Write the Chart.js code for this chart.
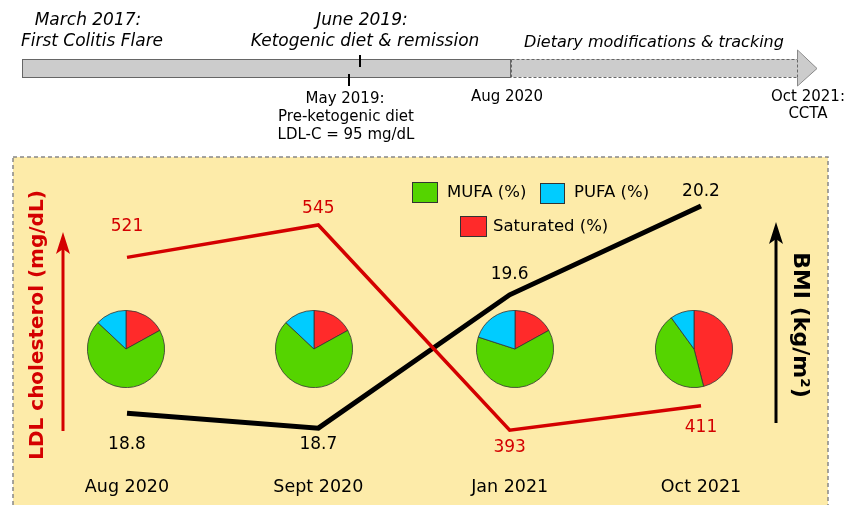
<!DOCTYPE html>
<html>
<head>
<meta charset="utf-8">
<script src="https://cdn.jsdelivr.net/npm/chart.js@4"></script>
<style>
  body { margin:0; background:#fff; }
  #wrap { position:relative; width:845px; height:505px; overflow:hidden; }
  #wrap canvas { position:absolute; }
</style>
</head>
<body>
<div id="wrap">
  <canvas id="grafico" width="845" height="505" style="left:0;top:0"></canvas>
</div>
<script>
// Datos

const categorias = ["Aug 2020", "Sept 2020", "Jan 2021", "Oct 2021"];

const ldl = [521, 545, 393, 411];

const bmi = [18.8, 18.7, 19.6, 20.2];

const mufa = [70, 70, 63, 44];
const pufa = [13, 13, 20, 10];
const saturados = [17, 17, 17, 46];

const leyendaGrasas = ["Saturated (%)", "MUFA (%)", "PUFA (%)"];

// Estilos y posiciones de etiquetas

const FONT = "DejaVu Sans";
const ROJO = "#d40000";
const coloresPie = ["#ff2a2a", "#55d400", "#00ccff"];

const offLdl = [-31, -16, 17, 22];
const offBmi = [31, 16, -20, -14];
const offPieX = [-1, -4, 5, -7];

// Dibujo de fondo, línea de tiempo y anotaciones

function texto(ctx, t, x, y, font, color, align) {
    ctx.font = font;
    ctx.fillStyle = color || "#000";
    ctx.textAlign = align || "center";
    ctx.textBaseline = "middle";
    ctx.fillText(t, x, y);
}

function flecha(ctx, x, yTop, yBot, color) {
    ctx.save();
    ctx.strokeStyle = color;
    ctx.fillStyle = color;
    ctx.lineWidth = 3;
    ctx.beginPath();
    ctx.moveTo(x, yBot);
    ctx.lineTo(x, yTop + 10);
    ctx.stroke();
    ctx.beginPath();
    ctx.moveTo(x, yTop);
    ctx.lineTo(x - 7, yTop + 22);
    ctx.lineTo(x, yTop + 17);
    ctx.lineTo(x + 7, yTop + 22);
    ctx.closePath();
    ctx.fill();
    ctx.restore();
}

const fondo = {
    id: "fondo",
    beforeDraw(chart) {
        const ctx = chart.ctx;
        ctx.save();
        ctx.fillStyle = "#fff";
        ctx.fillRect(0, 0, chart.width, chart.height);

        // línea de tiempo
        ctx.fillStyle = "#cccccc";
        ctx.fillRect(22, 59, 489, 18);
        ctx.strokeStyle = "#666";
        ctx.lineWidth = 1;
        ctx.strokeRect(22.5, 59.5, 488, 18);

        ctx.fillRect(511, 59, 286, 18);
        ctx.beginPath();
        ctx.moveTo(797, 50);
        ctx.lineTo(817, 68.5);
        ctx.lineTo(797, 86);
        ctx.closePath();
        ctx.fill();
        ctx.setLineDash([3, 2]);
        ctx.beginPath();
        ctx.moveTo(511.5, 59.5);
        ctx.lineTo(797, 59.5);
        ctx.moveTo(511.5, 59.5);
        ctx.lineTo(511.5, 77.5);
        ctx.lineTo(797, 77.5);
        ctx.moveTo(797.5, 59.5);
        ctx.lineTo(797.5, 77.5);
        ctx.stroke();
        ctx.setLineDash([]);
        ctx.strokeStyle = "#888";
        ctx.beginPath();
        ctx.moveTo(797.5, 59);
        ctx.lineTo(797.5, 50);
        ctx.lineTo(817, 68.5);
        ctx.lineTo(797.5, 86);
        ctx.lineTo(797.5, 78);
        ctx.stroke();

        ctx.strokeStyle = "#000";
        ctx.lineWidth = 2;
        ctx.beginPath();
        ctx.moveTo(360, 55);
        ctx.lineTo(360, 67);
        ctx.moveTo(349, 74);
        ctx.lineTo(349, 86);
        ctx.stroke();

        const it = "italic 17px " + FONT;
        texto(ctx, "March 2017:", 88, 21, it);
        texto(ctx, "First Colitis Flare", 92, 42, it);
        texto(ctx, "June 2019:", 362, 21, it);
        texto(ctx, "Ketogenic diet & remission", 365, 42, it);
        texto(ctx, "Dietary modifications & tracking", 654, 43, "italic 16px " + FONT);

        const n = "15px " + FONT;
        texto(ctx, "May 2019:", 345, 99, n);
        texto(ctx, "Pre-ketogenic diet", 346, 117, n);
        texto(ctx, "LDL-C = 95 mg/dL", 346, 135, n);
        texto(ctx, "Aug 2020", 507, 97, n);
        texto(ctx, "Oct 2021:", 808, 97, n);
        texto(ctx, "CCTA", 808, 114, n);

        // panel
        ctx.fillStyle = "#fdeba9";
        ctx.fillRect(13, 157, 815, 360);
        ctx.strokeStyle = "#888";
        ctx.lineWidth = 1.5;
        ctx.setLineDash([4, 3]);
        ctx.strokeRect(13, 157, 815, 360);
        ctx.setLineDash([]);
        ctx.restore();
    },
    afterDatasetsDraw(chart) {
        const ctx = chart.ctx;
        const x = chart.scales.x;
        ctx.save();
        const f = "17px " + FONT;
        const mL = chart.getDatasetMeta(0).data;
        const mB = chart.getDatasetMeta(1).data;
        ldl.forEach((v, i) => texto(ctx, String(v), mL[i].x, mL[i].y + offLdl[i], f, ROJO));
        bmi.forEach((v, i) => texto(ctx, v.toFixed(1), mB[i].x, mB[i].y + offBmi[i], f, "#000"));
        categorias.forEach((c, i) => texto(ctx, c, x.getPixelForValue(i), 487, "17.5px " + FONT, "#000"));

        // leyenda de grasas
        const cajas = [[460, 216, 26, 20, 493, 227], [412, 182, 25, 20, 447, 193], [540, 183, 24, 20, 574, 193]];
        cajas.forEach((b, i) => {
            ctx.fillStyle = coloresPie[i];
            ctx.fillRect(b[0], b[1], b[2], b[3]);
            ctx.strokeStyle = "#333";
            ctx.lineWidth = 1;
            ctx.strokeRect(b[0] + 0.5, b[1] + 0.5, b[2], b[3]);
            texto(ctx, leyendaGrasas[i], b[4], b[5], "16.5px " + FONT, "#000", "left");
        });

        flecha(ctx, 63, 232, 431, ROJO);
        flecha(ctx, 776, 222, 423, "#000");

        ctx.save();
        ctx.translate(38, 325);
        ctx.rotate(-Math.PI / 2);
        texto(ctx, "LDL cholesterol (mg/dL)", 0, 0, "bold 20px " + FONT, ROJO);
        ctx.restore();
        ctx.save();
        ctx.translate(800, 325);
        ctx.rotate(Math.PI / 2);
        texto(ctx, "BMI (kg/m²)", 0, 0, "bold 22px " + FONT, "#000");
        ctx.restore();
        ctx.restore();
    }
};

// Gráfico principal

const chart = new Chart(document.getElementById("grafico"), {
    type: "line",
    data: {
        labels: categorias,
        datasets: [{
            label: "LDL",
            data: ldl,
            yAxisID: "yL",
            borderColor: ROJO,
            borderWidth: 3.5,
            pointRadius: 0,
            fill: false,
            tension: 0,
            clip: false
        }, {
            label: "BMI",
            data: bmi,
            yAxisID: "yB",
            borderColor: "#000",
            borderWidth: 5,
            pointRadius: 0,
            fill: false,
            tension: 0,
            clip: false
        }]
    },
    options: {
        responsive: false,
        animation: false,
        layout: { padding: { left: 127, right: 144, top: 200, bottom: 65 } },
        plugins: { legend: { display: false }, tooltip: { enabled: false } },
        scales: {
            x: { type: "category", display: false, offset: false },
            yL: { type: "linear", display: false, min: 385.7, max: 563.5 },
            yB: { type: "linear", display: false, min: 18.62, max: 20.24 }
        }
    },
    plugins: [fondo]
});

// Gráficos de torta

const wrap = document.getElementById("wrap");
categorias.forEach((c, i) => {
    const cv = document.createElement("canvas");
    cv.width = 78;
    cv.height = 78;
    const cx = chart.scales.x.getPixelForValue(i) + offPieX[i];
    cv.style.left = (cx - 39) + "px";
    cv.style.top = (349 - 39) + "px";
    wrap.appendChild(cv);
    new Chart(cv, {
        type: "pie",
        data: {
            labels: leyendaGrasas,
            datasets: [{
                data: [saturados[i], mufa[i], pufa[i]],
                backgroundColor: coloresPie,
                borderColor: "#333",
                borderWidth: 0.8
            }]
        },
        options: {
            responsive: false,
            animation: false,
            plugins: { legend: { display: false }, tooltip: { enabled: false } }
        }
    });
});
</script>
</body>
</html>
